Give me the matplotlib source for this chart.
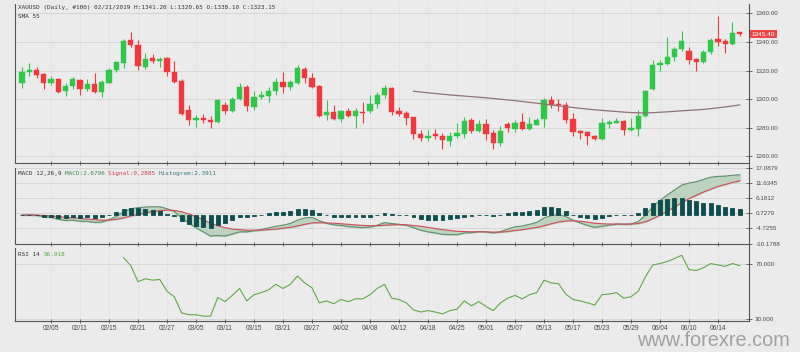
import numpy as np
import matplotlib
matplotlib.use("Agg")
import matplotlib.pyplot as plt
from matplotlib.transforms import offset_copy, blended_transform_factory

# ---------------- data ----------------
dates = ("01/30 01/31 02/01 02/04 02/05 02/06 02/07 02/08 02/11 02/12 02/13 02/14 02/15 "
         "02/18 02/19 02/20 02/21 02/22 02/25 02/26 02/27 02/28 03/01 03/04 03/05 03/06 "
         "03/07 03/08 03/11 03/12 03/13 03/14 03/15 03/18 03/19 03/20 03/21 03/22 03/25 "
         "03/26 03/27 03/28 03/29 04/01 04/02 04/03 04/04 04/05 04/08 04/09 04/10 04/11 "
         "04/12 04/15 04/16 04/17 04/18 04/22 04/23 04/24 04/25 04/26 04/29 04/30 05/01 "
         "05/02 05/03 05/06 05/07 05/08 05/09 05/10 05/13 05/14 05/15 05/16 05/17 05/20 "
         "05/21 05/22 05/23 05/24 05/27 05/28 05/29 05/30 05/31 06/03 06/04 06/05 06/06 "
         "06/07 06/10 06/11 06/12 06/13 06/14 06/17 06/18 06/19").split()

opens = [1311.2, 1319.3, 1320.5, 1317.7, 1311.2, 1314.4, 1305.8, 1309.3, 1313.5, 1307.2,
         1310.5, 1304.9, 1311.6, 1320.5, 1325.6, 1341.4, 1338.1, 1322.8, 1328.6, 1326.7,
         1328.6, 1318.8, 1312.8, 1292.6, 1285.6, 1286.7, 1285.8, 1284.4, 1296.0, 1292.1,
         1300.0, 1308.4, 1294.9, 1301.4, 1302.3, 1305.8, 1311.9, 1308.4, 1311.6, 1321.2,
         1314.7, 1309.3, 1289.1, 1291.4, 1286.3, 1292.1, 1288.6, 1291.4, 1291.9, 1296.5,
         1303.0, 1307.7, 1292.1, 1290.7, 1287.4, 1275.8, 1273.2, 1275.6, 1274.0, 1271.0,
         1274.4, 1275.8, 1285.6, 1277.6, 1282.8, 1276.3, 1269.3, 1282.8, 1279.5, 1283.9,
         1279.5, 1282.3, 1286.4, 1299.7, 1296.4, 1295.7, 1286.4, 1277.6, 1276.9, 1274.6,
         1272.3, 1283.0, 1283.6, 1284.6, 1278.8, 1279.5, 1288.1, 1307.1, 1324.0, 1324.7,
         1329.4, 1334.9, 1334.0, 1328.0, 1325.9, 1332.8, 1341.9, 1341.0, 1338.6, 1346.8]
highs = [1322.8, 1325.6, 1322.8, 1318.6, 1316.3, 1314.9, 1311.2, 1315.4, 1314.0, 1314.0,
         1318.1, 1313.5, 1321.6, 1327.0, 1342.0, 1347.0, 1341.2, 1332.6, 1331.6, 1329.8,
         1329.3, 1327.0, 1314.4, 1296.0, 1289.1, 1289.8, 1288.4, 1300.0, 1298.4, 1301.4,
         1311.2, 1310.0, 1306.0, 1306.0, 1308.8, 1314.7, 1319.3, 1313.5, 1324.0, 1322.8,
         1318.1, 1310.0, 1299.5, 1296.0, 1292.6, 1293.7, 1293.7, 1298.4, 1303.0, 1305.3,
         1310.0, 1308.8, 1294.9, 1292.1, 1287.9, 1278.6, 1278.6, 1279.1, 1276.3, 1277.4,
         1283.3, 1287.4, 1286.7, 1285.6, 1286.3, 1278.6, 1281.4, 1284.4, 1285.7, 1290.4,
         1287.6, 1286.9, 1300.8, 1302.4, 1300.1, 1297.8, 1290.4, 1278.3, 1277.6, 1275.3,
         1286.9, 1285.7, 1286.9, 1285.7, 1286.9, 1292.7, 1306.6, 1327.5, 1327.5, 1343.7,
         1336.8, 1347.7, 1336.8, 1329.1, 1334.5, 1342.6, 1358.4, 1341.9, 1353.7, 1347.2]
lows = [1308.1, 1316.3, 1315.1, 1307.4, 1309.8, 1304.6, 1301.9, 1307.0, 1303.0, 1305.8,
        1304.2, 1301.4, 1311.2, 1319.3, 1322.0, 1336.3, 1320.65, 1320.9, 1325.1, 1322.8,
        1316.3, 1311.6, 1289.1, 1281.9, 1280.5, 1283.3, 1279.8, 1283.7, 1289.8, 1291.4,
        1299.5, 1292.1, 1292.6, 1300.0, 1298.1, 1303.0, 1304.2, 1306.5, 1310.5, 1311.2,
        1307.7, 1287.9, 1285.6, 1285.6, 1284.4, 1287.4, 1279.8, 1283.3, 1290.7, 1293.7,
        1300.7, 1289.1, 1288.4, 1282.1, 1272.1, 1270.5, 1270.5, 1272.1, 1265.1, 1267.4,
        1272.8, 1272.8, 1276.3, 1277.4, 1271.6, 1265.1, 1267.0, 1277.4, 1277.2, 1278.3,
        1278.8, 1281.8, 1280.6, 1293.9, 1291.5, 1283.4, 1274.1, 1272.3, 1268.3, 1271.4,
        1271.8, 1279.9, 1283.4, 1275.3, 1277.6, 1274.1, 1287.4, 1306.6, 1319.4, 1324.0,
        1327.0, 1333.8, 1324.7, 1319.4, 1325.2, 1331.7, 1337.2, 1332.6, 1337.9, 1344.2]
closes = [1319.3, 1320.5, 1317.2, 1311.2, 1314.2, 1305.3, 1309.5, 1314.0, 1307.2, 1310.5,
          1304.9, 1311.9, 1320.5, 1326.0, 1340.7, 1337.9, 1323.15, 1327.9, 1326.7, 1328.1,
          1318.8, 1312.3, 1289.5, 1285.6, 1286.7, 1285.3, 1284.4, 1299.5, 1292.1, 1300.2,
          1308.8, 1295.3, 1301.4, 1303.0, 1306.0, 1311.9, 1308.4, 1311.9, 1321.6, 1314.7,
          1308.8, 1288.6, 1291.4, 1286.3, 1291.9, 1288.6, 1291.9, 1290.7, 1296.7, 1303.0,
          1307.7, 1291.4, 1289.8, 1286.7, 1275.8, 1272.8, 1274.6, 1274.0, 1271.2, 1274.6,
          1276.7, 1284.9, 1278.1, 1282.8, 1275.8, 1269.3, 1277.9, 1279.8, 1283.4, 1279.5,
          1283.0, 1285.3, 1299.7, 1296.2, 1295.7, 1285.7, 1277.2, 1276.5, 1274.1, 1272.3,
          1283.4, 1284.1, 1284.6, 1278.8, 1279.9, 1288.5, 1305.9, 1324.0, 1325.6, 1329.8,
          1335.2, 1341.0, 1327.5, 1325.9, 1332.8, 1341.4, 1340.3, 1338.6, 1346.1, 1345.4]

# SMA 55 values (first 54 days have no value)
sma55 = [np.nan] * 54 + [
    1305.6, 1305.0, 1304.5, 1304.0, 1303.5, 1303.0, 1302.6, 1302.2, 1301.8, 1301.4,
    1301.0, 1300.5, 1300.0, 1299.5, 1299.0, 1298.4, 1297.8, 1297.2, 1296.6, 1296.0,
    1295.4, 1294.8, 1294.2, 1293.6, 1293.1, 1292.6, 1292.2, 1291.8, 1291.4, 1291.0,
    1290.7, 1290.5, 1290.4, 1290.6, 1290.9, 1291.2, 1291.5, 1291.9, 1292.2, 1292.5,
    1292.9, 1293.4, 1294.0, 1294.6, 1295.3, 1296.0]

macd = [0, 0.1, -0.1, -0.6, -0.8, -1.5, -1.9, -1.8, -2.2, -2.2,
        -2.6, -2.5, -1.6, -0.5, 1.2, 2.3, 2.68, 2.9, 3.0, 3.0,
        2.3, 1.3, -1.0, -2.8, -4.5, -6.0, -7.5, -7.3, -7.5, -6.8,
        -6.0, -6.0, -5.6, -5.2, -4.6, -4.0, -3.6, -3.0, -1.8, -1.0,
        -0.8, -2.0, -2.9, -3.5, -3.7, -4.1, -4.3, -4.5, -4.3, -3.6,
        -2.7, -3.0, -3.3, -3.6, -4.5, -5.4, -6.0, -6.4, -6.9, -7.0,
        -7.0, -6.4, -6.3, -5.9, -6.0, -6.4, -5.9, -5.0, -4.2, -3.9,
        -3.3, -2.6, -1.0, -0.2, 0.2, -0.5, -1.8, -2.8, -3.7, -4.4,
        -4.0, -3.6, -3.2, -3.3, -3.2, -2.3, 0.0, 3.0, 5.3, 7.2,
        9.0, 10.8, 11.5, 12.0, 12.8, 13.6, 13.9, 14.0, 14.3, 14.5]
signal = [0, 0.02, 0, -0.1, -0.3, -0.5, -0.8, -1.0, -1.2, -1.4,
          -1.6, -1.8, -1.8, -1.5, -1.0, -0.3, 0.29, 0.8, 1.3, 1.6,
          1.8, 1.7, 1.2, 0.4, -0.6, -1.7, -2.9, -3.8, -4.5, -5.0,
          -5.2, -5.4, -5.4, -5.4, -5.2, -5.0, -4.7, -4.4, -3.9, -3.3,
          -2.8, -2.7, -2.8, -2.9, -3.1, -3.3, -3.5, -3.7, -3.8, -3.8,
          -3.6, -3.5, -3.4, -3.5, -3.7, -4.0, -4.4, -4.8, -5.2, -5.5,
          -5.8, -5.9, -6.0, -6.0, -6.0, -6.1, -6.1, -5.9, -5.5, -5.2,
          -4.8, -4.4, -3.8, -3.1, -2.5, -2.1, -2.0, -2.2, -2.5, -2.9,
          -3.1, -3.2, -3.2, -3.2, -3.2, -3.0, -2.4, -1.3, 0.0, 1.4,
          2.9, 4.5, 5.9, 7.1, 8.3, 9.3, 10.3, 11.0, 11.7, 12.3]
hist = [0, 0.08, -0.1, -0.5, -0.5, -1.0, -1.1, -0.8, -1.0, -0.8,
        -1.0, -0.7, 0.2, 1.0, 2.2, 2.6, 2.39, 2.1, 1.7, 1.4,
        0.5, -0.4, -2.2, -3.2, -3.9, -4.3, -4.6, -3.5, -3.0, -1.8,
        -0.8, -0.6, -0.2, 0.2, 0.6, 1.0, 1.1, 1.4, 2.1, 2.3,
        2.0, 0.7, -0.1, -0.6, -0.6, -0.8, -0.8, -0.8, -0.5, 0.2,
        0.9, 0.5, 0.1, -0.1, -0.8, -1.4, -1.6, -1.6, -1.7, -1.5,
        -1.2, -0.5, -0.3, 0.1, 0.0, -0.3, 0.2, 0.9, 1.3, 1.3,
        1.5, 1.8, 2.8, 2.9, 2.7, 1.6, 0.2, -0.6, -1.2, -1.5,
        -0.9, -0.4, 0.0, -0.1, 0.0, 0.7, 2.4, 4.3, 5.3, 5.8,
        6.1, 6.3, 5.6, 4.9, 4.5, 4.3, 3.6, 3.0, 2.6, 2.2]

rsi14 = [np.nan] * 14 + [
    74.4, 68.5, 56.9, 59.0, 58.0, 58.5, 50.0, 46.0, 34.4, 33.0,
    33.0, 32.0, 32.0, 45.5, 42.5, 47.0, 52.0, 43.0, 47.5, 49.0,
    51.0, 55.0, 52.0, 55.0, 61.0, 56.0, 52.5, 41.6, 43.0, 41.0,
    44.0, 42.5, 44.5, 44.5, 47.5, 52.0, 55.0, 45.0, 44.0, 41.6,
    36.5, 35.0, 36.0, 35.0, 33.6, 36.0, 37.0, 43.0, 39.5, 42.5,
    39.0, 36.0, 41.6, 45.0, 47.0, 44.5, 47.5, 49.0, 58.0, 56.0,
    55.5, 48.0, 44.0, 43.0, 41.6, 40.0, 47.5, 48.0, 49.0, 45.0,
    46.0, 50.0, 60.5, 69.0, 70.0, 71.5, 73.6, 76.0, 65.6, 65.0,
    67.0, 70.0, 69.0, 68.0, 70.0, 68.5]

price_ticks = [1260, 1280, 1300, 1320, 1340, 1360]
macd_ticks = [-10.1788, -4.7255, 0.7279, 6.1812, 11.6345, 17.0879]
rsi_ticks = [30, 70]
symbol_header = "XAUUSD (Daily, #100) 02/21/2019 H:1341.20 L:1320.65 O:1338.10 C:1323.15"

# ---------------- style ----------------
BG = "#ebebeb"
UP = "#2fc74a"
DN = "#f0393f"
GRID = "#d6d6d6"
AXC = "#555555"
TXT = "#333333"
W, H = 800, 352

fig = plt.figure(figsize=(W / 100, H / 100), dpi=100, facecolor=BG)

def rect(top, bottom, left=15, right=749):
    return [left / W, 1 - bottom / H, (right - left) / W, (bottom - top) / H]

ax1 = fig.add_axes(rect(4, 162.5))
ax2 = fig.add_axes(rect(167.5, 243.5))
ax3 = fig.add_axes(rect(247.5, 321))

n = len(closes)
x = np.arange(n)
tick_idx = list(range(4, n, 4))[:24]

for ax in (ax1, ax2, ax3):
    ax.set_facecolor(BG)
    ax.set_xlim(-0.97, 100.28)
    for s in ("top", "right"):
        ax.spines[s].set_visible(False)
    ax.spines["left"].set_color(AXC)
    ax.spines["bottom"].set_color(AXC)
    ax.spines["left"].set_linewidth(0.8)
    ax.spines["bottom"].set_linewidth(0.8)
    ax.set_xticks(tick_idx)
    ax.tick_params(axis="x", direction="inout", length=3, width=0.6, color=AXC,
                   labelsize=4.8, labelcolor="#4a4a4a", pad=1.5)
    for t in tick_idx:
        ax.axvline(t, color="#cfcfcf", lw=0.6, ls=(0, (1, 1.5)), zorder=0)
    ax.yaxis.tick_right()
    ax.tick_params(axis="y", direction="inout", length=4, width=0.6, color=AXC,
                   labelsize=4.5, labelcolor="#4a4a4a", pad=2.5)

ax1.set_xticklabels([])
ax2.set_xticklabels([])
ax3.set_xticklabels([dates[i] for i in tick_idx], family="Liberation Sans")

# ---- main candles ----
o = np.array(opens); c = np.array(closes); hi = np.array(highs); lo = np.array(lows)
cols = [UP if cc >= oo else DN for oo, cc in zip(o, c)]
ax1.vlines(x, lo, hi, colors=cols, lw=0.8, zorder=2)
body_bot = np.minimum(o, c)
body_h = np.maximum(np.abs(c - o), 0.6)
ax1.bar(x, body_h, bottom=body_bot, width=0.72, color=cols, edgecolor=cols, lw=0.3, zorder=3)
ax1.plot(x, sma55, color="#8c7474", lw=0.9, zorder=4)
ax1.set_ylim(1255.8, 1366.5)
ax1.set_yticks(price_ticks)
ax1.set_yticklabels([f"{v:.2f}" for v in price_ticks], family="Liberation Sans")
for v in price_ticks:
    ax1.axhline(v, color=GRID, lw=0.7, zorder=0)

tr = blended_transform_factory(ax1.transAxes, ax1.transData)
ax1.text(1.004, closes[-1], f"{closes[-1]:.2f}", transform=tr, fontsize=4.6,
         family="Liberation Sans", color="white", va="center", ha="left",
         bbox=dict(boxstyle="square,pad=0.25", fc="#f04545", ec="none"), zorder=6,
         clip_on=False)

# ---- MACD ----
ax2.set_ylim(macd_ticks[0], macd_ticks[-1])
ax2.set_yticks(macd_ticks)
ax2.set_yticklabels([f"{v:.4f}" for v in macd_ticks], family="Liberation Sans")
for v in macd_ticks:
    ax2.axhline(v, color=GRID, lw=0.7, zorder=0)
ax2.fill_between(x, macd, signal, color="#bcd3bf", zorder=1)
ax2.plot(x, macd, color="#5f8f6c", lw=0.8, zorder=2)
ax2.plot(x, signal, color="#d24a5a", lw=0.8, zorder=2)
ax2.bar(x, hist, width=0.55, color="#0f4d4d", edgecolor="#0f4d4d", lw=0.6, zorder=3)

# ---- RSI ----
ax3.set_ylim(28.5, 81.6)
ax3.set_yticks(rsi_ticks)
ax3.set_yticklabels([f"{v:.3f}" for v in rsi_ticks], family="Liberation Sans")
for v in rsi_ticks:
    ax3.axhline(v, color=GRID, lw=0.7, zorder=0)
ax3.plot(x, rsi14, color="#62a84a", lw=0.8, zorder=2)

# right border line through all panels
fig.add_artist(plt.Line2D([749 / W, 749 / W], [1 - 4 / H, 1 - 321 / H],
                          transform=fig.transFigure, color=AXC, lw=0.8))

# ---- header texts ----
FS = 4.3
CW = 0.602 * FS  # char advance in points (monospace)

def seg_text(xp, yp, parts):
    off = 0.0
    for s, col in parts:
        t = offset_copy(fig.transFigure, fig=fig, x=off, y=0, units="points")
        fig.text(xp / W, 1 - yp / H, s, transform=t, fontsize=FS,
                 family="DejaVu Sans Mono", color=col, va="center", ha="left")
        off += len(s) * CW

seg_text(18, 8, [(symbol_header, TXT)])
seg_text(18, 17, [("SMA 55", TXT)])
seg_text(18, 173.5, [("MACD 12,26,9 ", TXT), ("MACD:2.6796 ", "#3f8a55"),
                     ("Signal:0.2885 ", "#d8405a"), ("Histogram:2.3911", "#3a7676")])
seg_text(18, 254, [("RSI 14 ", TXT), ("56.918", "#5aa83f")])

fig.text(790 / W, 1 - 346 / H, "www.forexre.com", fontsize=14.3, family="Liberation Sans",
         color="#8f8f8f", alpha=0.8, ha="right", va="baseline")

fig.savefig("out.png", dpi=100, facecolor=BG)
